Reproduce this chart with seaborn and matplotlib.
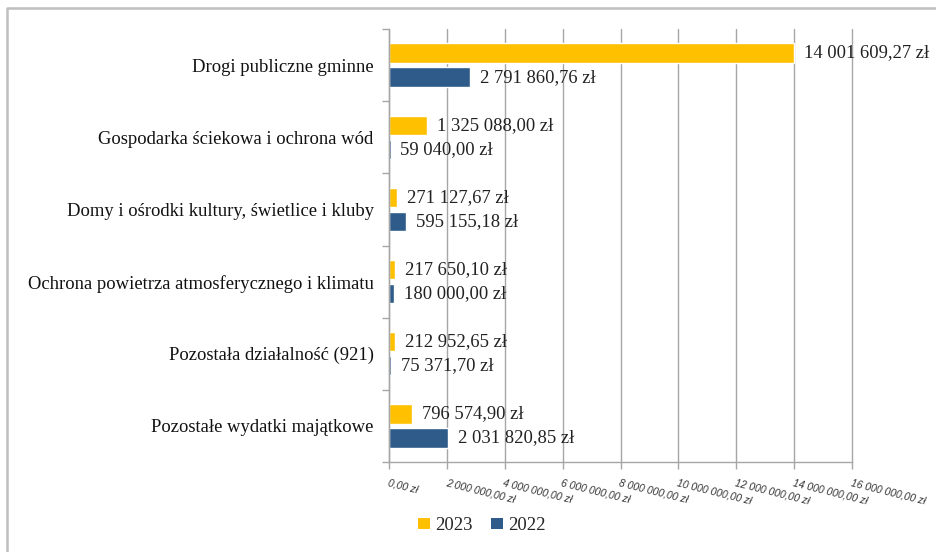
import matplotlib

matplotlib.use("Agg")
import matplotlib.pyplot as plt
import pandas as pd
import seaborn as sns
from matplotlib.lines import Line2D
from matplotlib.patches import Patch

CATEGORIES = [
    "Drogi publiczne gminne",
    "Gospodarka ściekowa i ochrona wód",
    "Domy i ośrodki kultury, świetlice i kluby",
    "Ochrona powietrza atmosferycznego i klimatu",
    "Pozostała działalność (921)",
    "Pozostałe wydatki majątkowe",
]
VALUES_2023 = [14001609.27, 1325088.00, 271127.67, 217650.10, 212952.65, 796574.90]
VALUES_2022 = [2791860.76, 59040.00, 595155.18, 180000.00, 75371.70, 2031820.85]
YEARS = ["2023", "2022"]
X_TICKS = [0, 2e6, 4e6, 6e6, 8e6, 10e6, 12e6, 14e6, 16e6]

PALETTE = {"2023": "#FFC000", "2022": "#2E5B8A"}
SERIF = "Liberation Serif"
GRID = "#A6A6A6"
FS = 13.4


def pln(v: float) -> str:
    s = f"{v:,.2f}"
    whole, dec = s.split(".")
    return whole.replace(",", " ") + "," + dec + " zł"


df = pd.DataFrame({
    "kategoria": CATEGORIES * 2,
    "rok": ["2023"] * len(CATEGORIES) + ["2022"] * len(CATEGORIES),
    "kwota": VALUES_2023 + VALUES_2022,
})

sns.set_theme(style="white")
plt.rcParams["font.family"] = [SERIF, "DejaVu Serif"]

fig = plt.figure(figsize=(9.36, 5.52), dpi=100)
ax = fig.add_axes([0.4156, 0.163, 0.4947, 0.7845])

sns.barplot(
    data=df, y="kategoria", x="kwota", hue="rok", hue_order=YEARS,
    order=CATEGORIES, palette=PALETTE, orient="h", width=0.667, gap=0.2,
    saturation=1, legend=False, ax=ax,
)

for cont, vals in zip(ax.containers, [VALUES_2023, VALUES_2022]):
    ax.bar_label(cont, labels=[pln(v) for v in vals], padding=7,
                 fontsize=FS, family=SERIF, color="#222222", clip_on=False)

ax.set_xlim(0, 16e6)
ax.set_ylim(len(CATEGORIES) - 0.5, -0.5)
ax.set_xticks(X_TICKS)
ax.set_xticklabels([pln(t) for t in X_TICKS], rotation=-14, ha="left",
                   rotation_mode="anchor", fontsize=7.5, style="italic",
                   family="Liberation Sans", color="#333333")
ax.set_yticks(range(len(CATEGORIES)))
ax.set_yticklabels(CATEGORIES, fontsize=FS, family=SERIF, color="#111111")
ax.set_yticks([i - 0.5 for i in range(len(CATEGORIES) + 1)], minor=True)
ax.tick_params(axis="y", which="major", length=0, pad=11)
ax.tick_params(axis="y", which="minor", left=True, length=5, width=1, color=GRID)
ax.tick_params(axis="x", which="major", bottom=True, length=5, width=1,
               color=GRID, pad=6)
ax.set_xlabel("")
ax.set_ylabel("")
ax.grid(axis="x", color=GRID, linewidth=1)
for line in ax.get_xgridlines():
    line.set_clip_on(False)
ax.set_axisbelow(True)
for side in ["top", "right"]:
    ax.spines[side].set_visible(False)
for side in ["left", "bottom"]:
    ax.spines[side].set_color(GRID)
    ax.spines[side].set_linewidth(1)

handles = [Patch(facecolor=PALETTE[y], edgecolor="none", label=y) for y in YEARS]
fig.legend(handles=handles, loc="center", bbox_to_anchor=(0.515, 0.048), ncol=2,
           frameon=False, fontsize=FS, handlelength=0.6, handleheight=0.6,
           handletextpad=0.3, columnspacing=1.0)

# outer frame of the original picture (left and top edges visible)
fig.add_artist(Line2D([7 / 936, 7 / 936, 1.0], [0.0, 1 - 8 / 552, 1 - 8 / 552],
                      transform=fig.transFigure, color="#BFBFBF", linewidth=1.8))

fig.savefig("out.png", dpi=100)
plt.close(fig)
